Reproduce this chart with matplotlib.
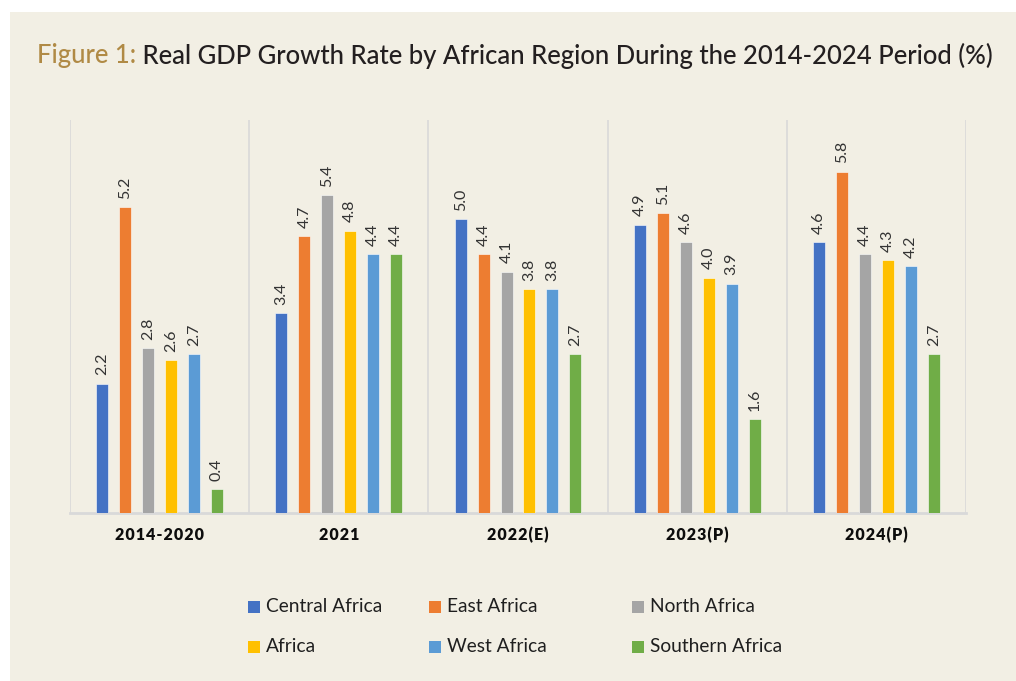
import matplotlib
matplotlib.use("Agg")
import matplotlib.pyplot as plt
from matplotlib.patches import Rectangle
import numpy as np

periods = ["2014-2020", "2021", "2022(E)", "2023(P)", "2024(P)"]
regions = ["Central Africa", "East Africa", "North Africa", "Africa", "West Africa", "Southern Africa"]
colors = ["#4472C4", "#ED7D31", "#A5A5A5", "#FFC000", "#5B9BD5", "#70AD47"]

central = [2.2, 3.4, 5.0, 4.9, 4.6]
east = [5.2, 4.7, 4.4, 5.1, 5.8]
north = [2.8, 5.4, 4.1, 4.6, 4.4]
africa = [2.6, 4.8, 3.8, 4.0, 4.3]
west = [2.7, 4.4, 3.8, 3.9, 4.2]
southern = [0.4, 4.4, 2.7, 1.6, 2.7]
series = [central, east, north, africa, west, southern]

BG = "#f2efe4"
W, H = 1016, 681

fig = plt.figure(figsize=(W / 100, H / 100), dpi=100, facecolor="white")
fig.add_artist(Rectangle((10 / W, 0), 1, 1 - 12 / H, transform=fig.transFigure,
                         facecolor=BG, edgecolor="none", zorder=-10))

ax = fig.add_axes([70 / W, 1 - 513 / H, 896 / W, 393 / H])
ax.set_facecolor("none")

x = np.arange(len(periods))
pitch = 0.128
width = 0.067
for i, (vals, col) in enumerate(zip(series, colors)):
    pos = x + (i - 2.5) * pitch
    bars = ax.bar(pos, vals, width=width, color=col, edgecolor="#ffffff",
                  linewidth=0.4, zorder=3)
    for b, v in zip(bars, vals):
        ax.annotate(f"{v:.1f}", (b.get_x() + b.get_width() / 2, v),
                    xytext=(0, 6), textcoords="offset points",
                    rotation=90, ha="center", va="bottom",
                    fontsize=11.5, family="Lato", color="#333333")

ax.set_xlim(-0.5, len(periods) - 0.5)
ax.set_ylim(0, 6.68)
for s in ["top", "right", "left"]:
    ax.spines[s].set_visible(False)
ax.spines["bottom"].set_color("#d9d9d9")
ax.spines["bottom"].set_linewidth(2)
for sep in np.arange(-0.5, len(periods), 1.0):
    ax.axvline(sep, color="#d9d9d9", linewidth=1.2, zorder=1)
ax.set_yticks([])
ax.set_xticks(x)
ax.set_xticklabels(["\u200a".join(p) for p in periods],
                   fontsize=11.5, fontweight="heavy", family=["Lato", "DejaVu Sans"],
                   color="#0d0d0d")
ax.tick_params(axis="x", length=0, pad=10)

# title, two colours
t1 = fig.text(37 / W, 1 - 56 / H, "Figure 1:", fontsize=20, family="Lato",
              fontweight="medium", color="#b08a45", va="center", ha="left")
t2 = fig.text(0, 1 - 56 / H, " Real GDP Growth Rate by African Region During the 2014-2024 Period (%)",
              fontsize=20, family="Lato", fontweight="medium", color="#231f20",
              va="center", ha="left")
r = fig.canvas.get_renderer()
total = t1.get_window_extent(r).width + t2.get_window_extent(r).width
fs = 20 * (995 - 37) / total
t1.set_fontsize(fs)
t2.set_fontsize(fs)
e1 = t1.get_window_extent(r)
t2.set_x((37 + e1.width) / W)

# legend, three columns
col_x = [248, 429, 632]
row_y = [607, 647]
for i, (name, col) in enumerate(zip(regions, colors)):
    cx = col_x[i % 3]
    cy = row_y[i // 3]
    fig.add_artist(Rectangle((cx / W, 1 - (cy + 6) / H), 12 / W, 12 / H,
                             transform=fig.transFigure, facecolor=col, edgecolor="none"))
    fig.text((cx + 18) / W, 1 - cy / H, name, fontsize=13.8, family="Lato",
             color="#1f1f1f", va="center", ha="left")

fig.savefig("out.png", dpi=100, facecolor="white")
